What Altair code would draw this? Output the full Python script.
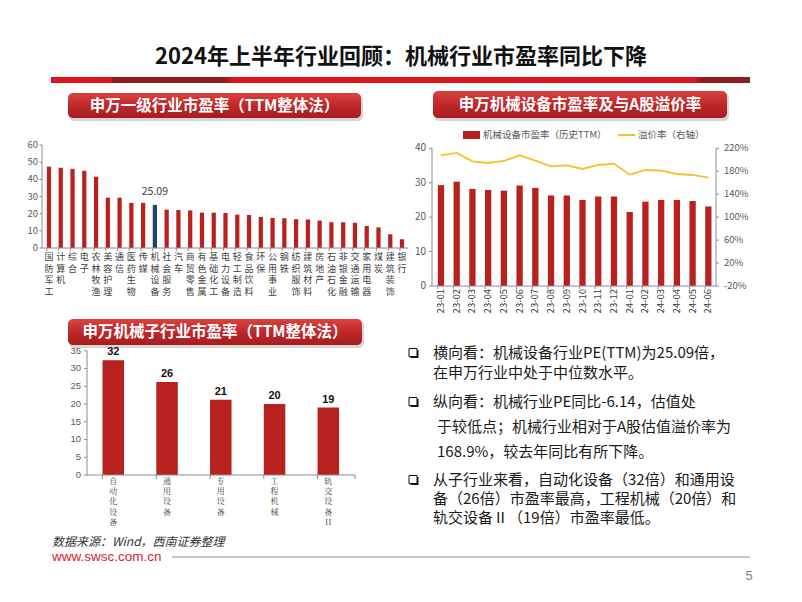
import altair as alt
import pandas as pd

FONT = "Noto Sans CJK SC"
O = 8


def px(v):
    return v - O


# ---------------- data ----------------
industries = ["国防军工", "计算机", "综合", "电子", "农林牧渔", "美容护理", "通信", "医药生物",
              "传媒", "机械设备", "社会服务", "汽车", "商贸零售", "有色金属", "基础化工", "电力设备",
              "轻工制造", "食品饮料", "环保", "公用事业", "钢铁", "纺织服饰", "建筑材料", "房地产",
              "石油石化", "非银金融", "交通运输", "家用电器", "煤炭", "建筑装饰", "银行"]
industry_pe = [47.4, 46.7, 46.1, 45.0, 41.5, 29.3, 29.3, 26.3, 26.3, 25.09, 22.3, 22.1, 21.9,
               20.6, 20.6, 20.4, 19.4, 19.2, 18.1, 17.5, 17.3, 16.8, 16.6, 16.0, 15.0, 15.0,
               14.7, 12.8, 12.0, 8.0, 5.1]
highlight = "机械设备"
industry_ticks = [0, 10, 20, 30, 40, 50, 60]

months = ["23-01", "23-02", "23-03", "23-04", "23-05", "23-06", "23-07", "23-08", "23-09",
          "23-10", "23-11", "23-12", "24-01", "24-02", "24-03", "24-04", "24-05", "24-06"]
mech_pe = [29.3, 30.3, 28.2, 27.9, 27.7, 29.2, 28.5, 26.3, 26.3, 25.0, 26.0, 26.0, 21.5,
           24.5, 25.0, 25.0, 24.7, 23.1]
premium = [207.8, 211.9, 197.3, 194.4, 197.9, 207.8, 198.5, 188.6, 190.4, 184.0, 190.9,
           193.3, 174.1, 182.2, 181.1, 175.2, 173.5, 168.9]
left_ticks = [0, 10, 20, 30, 40]
right_ticks = [-20, 20, 60, 100, 140, 180, 220]

sub_inds = ["自动化设备", "通用设备", "专用设备", "工程机械", "轨交设备II"]
sub_labels = ["自\n动\n化\n设\n备", "通\n用\n设\n备", "专\n用\n设\n备", "工\n程\n机\n械", "轨\n交\n设\n备\nII"]
sub_pe = [32.3, 26.2, 21.2, 20.0, 19.0]
sub_value_text = ["32", "26", "21", "20", "19"]
sub_ticks = [0, 5, 10, 15, 20, 25, 30, 35]

BAR = "#B8211E"
NAVY = "#23406E"
GOLD = "#F5C12A"
AXIS = "#8C8C8C"
LBL = "#404040"

one = pd.DataFrame({"k": [0]})
layers = []


def rect(x0, x1, y0, y1, **kw):
    return alt.Chart(one).mark_rect(**kw).encode(
        x=alt.value(px(x0)), x2=alt.value(px(x1)), y=alt.value(px(y0)), y2=alt.value(px(y1)))


def text(s, x, y, **kw):
    base = dict(font=FONT, baseline="middle")
    base.update(kw)
    return alt.Chart(one).mark_text(text=s, **base).encode(x=alt.value(px(x)), y=alt.value(px(y)))


# ---------------- title + red bar ----------------
layers.append(text("2024年上半年行业回顾：机械行业市盈率同比下降", 401, 57, fontSize=22,
                   fontWeight="bold", color="#111111", align="center"))
bar_grad = alt.LinearGradient(gradient="linear", x1=0, x2=1, y1=0, y2=0, stops=[
    alt.GradientStop(color="#E0121B", offset=0), alt.GradientStop(color="#E0121B", offset=0.085),
    alt.GradientStop(color="#8E1B1B", offset=0.09), alt.GradientStop(color="#8E1B1B", offset=0.245),
    alt.GradientStop(color="#E0121B", offset=0.265), alt.GradientStop(color="#E0121B", offset=0.92),
    alt.GradientStop(color="#8E1B1B", offset=0.93), alt.GradientStop(color="#8E1B1B", offset=1)])
layers.append(rect(51, 750, 77, 83, color=bar_grad))

# ---------------- header pills ----------------
pill_grad = alt.LinearGradient(gradient="linear", x1=0, x2=0, y1=0, y2=1, stops=[
    alt.GradientStop(color="#D9433F", offset=0), alt.GradientStop(color="#C0282A", offset=0.5),
    alt.GradientStop(color="#A51C1F", offset=1)])


def pill(x0, x1, y0, y1, label):
    out = [rect(x0 + 1, x1 + 2, y0 + 2, y1 + 3, color="#BBBBBB", opacity=0.6, cornerRadius=5),
           rect(x0, x1, y0, y1, color=pill_grad, cornerRadius=5),
           text(label, (x0 + x1) / 2, (y0 + y1) / 2, fontSize=15.5, fontWeight="bold",
                color="white", align="center")]
    return out


layers += pill(68, 361, 93, 118, "申万一级行业市盈率（TTM整体法）")
layers += pill(433, 727, 91, 118, "申万机械设备市盈率及与A股溢价率")
layers += pill(68, 362, 319, 345, "申万机械子行业市盈率（TTM整体法）")

# ---------------- chart 1 ----------------
df1 = pd.DataFrame({"name": industries, "pe": industry_pe})
df1["label"] = ["\n".join(n) for n in industries]
x1s = alt.Scale(type="band", domain=industries, range=[px(43.1), px(407.9)],
                paddingInner=0.64, paddingOuter=0.32)
y1s = alt.Scale(domain=[0, 60], range=[px(248), px(145)], nice=False)

layers.append(alt.Chart(df1).mark_bar().encode(
    x=alt.X("name:N", scale=x1s, axis=None),
    y=alt.Y("pe:Q", scale=y1s, axis=None),
    color=alt.condition(alt.datum.name == highlight, alt.value(NAVY), alt.value(BAR))))
layers.append(alt.Chart(df1).mark_text(font=FONT, fontSize=9, color=LBL, lineBreak="\n",
                                        baseline="top", lineHeight=11.5).encode(
    x=alt.X("name:N", scale=x1s, axis=None, bandPosition=0.5),
    y=alt.value(px(253)), text="label:N"))
layers.append(alt.Chart(df1[df1.name == highlight]).mark_text(
    font=FONT, fontSize=10.5, color=LBL, baseline="middle").encode(
    x=alt.X("name:N", scale=x1s, axis=None, bandPosition=0.5),
    y=alt.value(px(192)), text=alt.Text("pe:Q", format=".2f")))
t1 = pd.DataFrame({"v": industry_ticks})
layers.append(alt.Chart(t1).mark_text(font=FONT, fontSize=9.5, color="#595959", align="right",
                                       baseline="middle").encode(
    x=alt.value(px(38)), y=alt.Y("v:Q", scale=y1s, axis=None), text="v:Q"))
layers.append(alt.Chart(t1).mark_rule(color=AXIS).encode(
    x=alt.value(px(39.5)), x2=alt.value(px(42)), y=alt.Y("v:Q", scale=y1s, axis=None)))
layers.append(alt.Chart(pd.DataFrame({"lo": [0], "hi": [60]})).mark_rule(color=AXIS).encode(
    x=alt.value(px(42)), y=alt.Y("lo:Q", scale=y1s, axis=None), y2="hi:Q"))
layers.append(alt.Chart(pd.DataFrame({"lo": [0]})).mark_rule(color=AXIS).encode(
    x=alt.value(px(42)), x2=alt.value(px(408)), y=alt.Y("lo:Q", scale=y1s, axis=None)))
layers.append(alt.Chart(df1).mark_rule(color=AXIS).encode(
    x=alt.X("name:N", scale=x1s, axis=None, bandPosition=0),
    y=alt.value(px(248)), y2=alt.value(px(251))))

# ---------------- chart 2 ----------------
df2 = pd.DataFrame({"m": months, "pe": mech_pe, "prem": premium})
x2s = alt.Scale(type="band", domain=months, range=[px(433.1), px(716.2)],
                paddingInner=0.6, paddingOuter=0.3)
y2l = alt.Scale(domain=[0, 40], range=[px(286), px(148.3)], nice=False)
y2r = alt.Scale(domain=[-20, 220], range=[px(286), px(148.3)], nice=False, zero=False)

layers.append(alt.Chart(df2).mark_bar(color=BAR).encode(
    x=alt.X("m:N", scale=x2s, axis=None), y=alt.Y("pe:Q", scale=y2l, axis=None)))
layers.append(alt.Chart(df2).mark_line(color=GOLD, strokeWidth=1.8).encode(
    x=alt.X("m:N", scale=x2s, axis=None, bandPosition=0.5),
    y=alt.Y("prem:Q", scale=y2r, axis=None)))
layers.append(alt.Chart(df2).mark_text(font=FONT, fontSize=9.5, color=LBL, angle=270,
                                        align="right", baseline="middle").encode(
    x=alt.X("m:N", scale=x2s, axis=None, bandPosition=0.5), y=alt.value(px(289)), text="m:N"))
layers.append(alt.Chart(df2).mark_rule(color=AXIS).encode(
    x=alt.X("m:N", scale=x2s, axis=None, bandPosition=0),
    y=alt.value(px(286)), y2=alt.value(px(289))))
tl = pd.DataFrame({"v": left_ticks})
layers.append(alt.Chart(tl).mark_text(font=FONT, fontSize=10, color="#595959", align="right",
                                       baseline="middle").encode(
    x=alt.value(px(426)), y=alt.Y("v:Q", scale=y2l, axis=None), text="v:Q"))
layers.append(alt.Chart(tl).mark_rule(color=AXIS).encode(
    x=alt.value(px(429)), x2=alt.value(px(432)), y=alt.Y("v:Q", scale=y2l, axis=None)))
tr = pd.DataFrame({"v": right_ticks})
tr["t"] = [f"{v}%" for v in right_ticks]
layers.append(alt.Chart(tr).mark_text(font=FONT, fontSize=9.5, color="#595959", align="left",
                                       baseline="middle").encode(
    x=alt.value(px(724)), y=alt.Y("v:Q", scale=y2r, axis=None), text="t:N"))
layers.append(alt.Chart(tr).mark_rule(color=AXIS).encode(
    x=alt.value(px(716)), x2=alt.value(px(719)), y=alt.Y("v:Q", scale=y2r, axis=None)))
layers.append(alt.Chart(pd.DataFrame({"lo": [0], "hi": [40]})).mark_rule(color=AXIS).encode(
    x=alt.value(px(432)), y=alt.Y("lo:Q", scale=y2l, axis=None), y2="hi:Q"))
layers.append(alt.Chart(pd.DataFrame({"lo": [0], "hi": [40]})).mark_rule(color=AXIS).encode(
    x=alt.value(px(716)), y=alt.Y("lo:Q", scale=y2l, axis=None), y2="hi:Q"))
layers.append(alt.Chart(pd.DataFrame({"lo": [0]})).mark_rule(color=AXIS).encode(
    x=alt.value(px(432)), x2=alt.value(px(716)), y=alt.Y("lo:Q", scale=y2l, axis=None)))
# legend
layers.append(rect(463, 480, 131, 139, color=BAR))
layers.append(text("机械设备市盈率（历史TTM）", 483, 135, fontSize=9.5, color="#595959", align="left"))
layers.append(alt.Chart(one).mark_rule(color=GOLD, strokeWidth=2).encode(
    x=alt.value(px(618)), x2=alt.value(px(635)), y=alt.value(px(135))))
layers.append(text("溢价率（右轴）", 638, 135, fontSize=9.5, color="#595959", align="left"))

# ---------------- chart 3 ----------------
df3 = pd.DataFrame({"name": sub_inds, "pe": sub_pe, "lab": sub_labels, "vt": sub_value_text})
x3s = alt.Scale(type="band", domain=sub_inds, range=[px(86.4), px(355.2)],
                paddingInner=0.6, paddingOuter=0.3)
y3s = alt.Scale(domain=[0, 35], range=[px(475), px(350.7)], nice=False)
layers.append(alt.Chart(df3).mark_bar(color=BAR).encode(
    x=alt.X("name:N", scale=x3s, axis=None), y=alt.Y("pe:Q", scale=y3s, axis=None)))
layers.append(alt.Chart(df3).mark_text(font="Liberation Sans", fontSize=11, fontWeight="bold",
                                        color="#111111", baseline="bottom", dy=-3).encode(
    x=alt.X("name:N", scale=x3s, axis=None, bandPosition=0.5),
    y=alt.Y("pe:Q", scale=y3s, axis=None), text="vt:N"))
layers.append(alt.Chart(df3).mark_text(font="Noto Serif CJK SC, " + FONT, fontSize=8, color=LBL,
                                        lineBreak="\n", baseline="top", lineHeight=10.2).encode(
    x=alt.X("name:N", scale=x3s, axis=None, bandPosition=0.5),
    y=alt.value(px(478)), text="lab:N"))
layers.append(alt.Chart(df3).mark_rule(color=AXIS).encode(
    x=alt.X("name:N", scale=x3s, axis=None, bandPosition=0),
    y=alt.value(px(475)), y2=alt.value(px(479))))
layers.append(alt.Chart(one).mark_rule(color=AXIS).encode(
    x=alt.value(px(355)), y=alt.value(px(475)), y2=alt.value(px(479))))
t3 = pd.DataFrame({"v": sub_ticks})
layers.append(alt.Chart(t3).mark_text(font="Liberation Sans", fontSize=9.5, color="#595959",
                                       align="right", baseline="middle").encode(
    x=alt.value(px(81)), y=alt.Y("v:Q", scale=y3s, axis=None), text="v:Q"))
layers.append(alt.Chart(t3).mark_rule(color=AXIS).encode(
    x=alt.value(px(84)), x2=alt.value(px(87)), y=alt.Y("v:Q", scale=y3s, axis=None)))
layers.append(alt.Chart(pd.DataFrame({"lo": [0], "hi": [35]})).mark_rule(color=AXIS).encode(
    x=alt.value(px(87)), y=alt.Y("lo:Q", scale=y3s, axis=None), y2="hi:Q"))
layers.append(alt.Chart(pd.DataFrame({"lo": [0]})).mark_rule(color=AXIS).encode(
    x=alt.value(px(87)), x2=alt.value(px(355)), y=alt.Y("lo:Q", scale=y3s, axis=None)))

# ---------------- right text block ----------------


def bullet(x, y):
    return [rect(x + 1.5, x + 9.5, y - 3, y + 5, color="#111111"),
            rect(x, x + 8, y - 4.5, y + 3.5, fill="white", stroke="#111111", strokeWidth=1)]


TB = dict(fontSize=15, color="#1A1A1A", align="left")
layers += bullet(409, 353)
layers.append(text("横向看：机械设备行业PE(TTM)为25.09倍，", 433, 353, **TB))
layers.append(text("在申万行业中处于中位数水平。", 433, 372.5, **TB))
layers += bullet(409, 402)
layers.append(text("纵向看：机械行业PE同比-6.14，估值处", 433, 402, **TB))
layers.append(text("于较低点；机械行业相对于A股估值溢价率为", 437, 427, **TB))
layers.append(text("168.9%，较去年同比有所下降。", 437, 452, **TB))
layers += bullet(409, 480)
layers.append(text("从子行业来看，自动化设备（32倍）和通用设", 433, 480, **TB))
layers.append(text("备（26倍）市盈率最高，工程机械（20倍）和", 433, 499, **TB))
layers.append(text("轨交设备Ⅱ（19倍）市盈率最低。", 433, 518, **TB))

# ---------------- footer ----------------
layers.append(text("数据来源：Wind，西南证券整理", 52, 542, fontSize=12, fontStyle="italic",
                   color="#333333", align="left"))
layers.append(text("www.swsc.com.cn", 52, 557, font="Liberation Sans", fontSize=13.5,
                   color="#D9212B", align="left"))
layers.append(alt.Chart(one).mark_rule(color="#C8C8C8", strokeWidth=2).encode(
    x=alt.value(px(172)), x2=alt.value(px(750)), y=alt.value(px(557))))
layers.append(text("5", 749, 576, font="Liberation Sans", fontSize=13, color="#808080",
                   align="center"))

chart = alt.layer(*layers).resolve_scale(x="independent", y="independent").properties(
    width=786, height=586, autosize=alt.AutoSizeParams(type="none"), padding=0,
    background="white").configure_view(stroke=None)

chart.save("out.html", embed_options={"renderer": "svg", "actions": False})
